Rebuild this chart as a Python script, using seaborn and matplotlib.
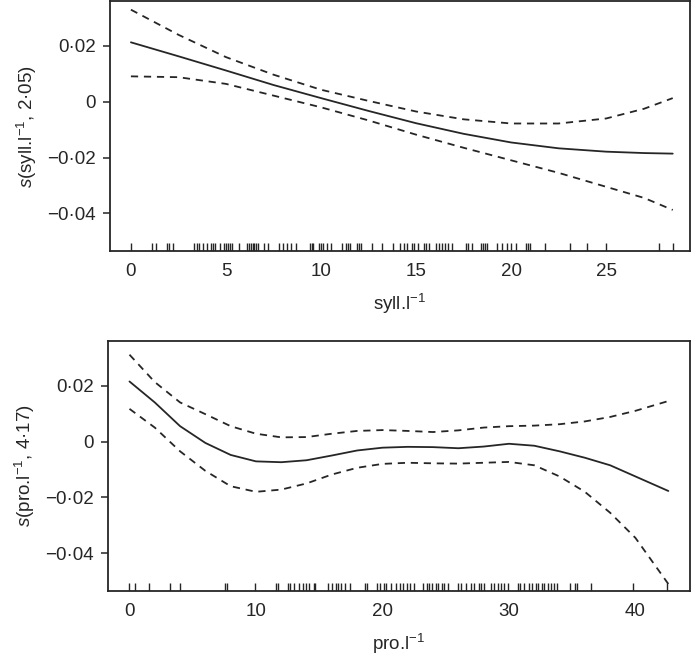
import matplotlib
matplotlib.use("Agg")
import matplotlib.pyplot as plt
import matplotlib.ticker as mticker
import pandas as pd
import seaborn as sns

# --- data --------------------------------------------------------------
# top panel: smooth of syll.l-1 (edf 2.05)
syll_x = [0, 2.5, 5, 7.5, 10, 12.5, 15, 17.5, 20, 22.5, 25, 27, 28.5]
syll_fit = [0.0213, 0.0163, 0.0112, 0.0060, 0.0013, -0.0033, -0.0077,
            -0.0115, -0.0146, -0.0167, -0.0179, -0.0184, -0.0186]
syll_upper = [0.0330, 0.0240, 0.0160, 0.0097, 0.0043, 0.0003, -0.0035,
              -0.0063, -0.0078, -0.0078, -0.0060, -0.0025, 0.0013]
syll_lower = [0.0091, 0.0088, 0.0064, 0.0022, -0.0020, -0.0067, -0.0118,
              -0.0165, -0.0210, -0.0255, -0.0305, -0.0345, -0.0388]
syll_rug = [0.03, 1.1, 1.3, 1.9, 2.0, 2.2, 3.3, 3.5, 3.6, 3.8, 4.0, 4.2, 4.3,
            4.4, 4.7, 4.9, 5.0, 5.1, 5.2, 5.3, 5.7, 6.1, 6.2, 6.3, 6.4, 6.5,
            6.6, 6.7, 7.0, 7.2, 7.8, 8.0, 8.2, 8.4, 8.7, 9.4, 9.5, 9.6, 9.9,
            10.0, 10.1, 10.3, 10.5, 11.1, 11.3, 11.4, 11.5, 11.9, 12.0, 12.1,
            12.7, 13.2, 13.8, 14.16, 14.37, 14.5, 14.8, 14.9, 15.1, 15.4,
            15.5, 15.7, 16.05, 16.2, 16.35, 16.5, 16.7, 16.9, 17.6, 17.75,
            17.96, 18.4, 18.5, 18.6, 18.75, 19.25, 19.5, 19.8, 20.0, 20.25,
            20.8, 20.9, 21.0, 21.8, 23.1, 24.0, 25.0, 27.8, 28.5]

# bottom panel: smooth of pro.l-1 (edf 4.17)
pro_x = [0, 2, 4, 6, 8, 10, 12, 14, 16, 18, 20, 22, 24, 26, 28, 30, 32, 34,
         36, 38, 40, 42.6]
pro_fit = [0.0215, 0.0140, 0.0055, -0.0005, -0.0048, -0.0071, -0.0074,
           -0.0067, -0.0050, -0.0032, -0.0022, -0.0019, -0.0020, -0.0024,
           -0.0018, -0.0008, -0.0015, -0.0035, -0.0058, -0.0085, -0.0125,
           -0.0177]
pro_upper = [0.0311, 0.0213, 0.0140, 0.0098, 0.0055, 0.0028, 0.0015, 0.0016,
             0.0028, 0.0038, 0.0041, 0.0038, 0.0034, 0.0040, 0.0050, 0.0055,
             0.0057, 0.0062, 0.0072, 0.0088, 0.0110, 0.0145]
pro_lower = [0.0117, 0.0050, -0.0035, -0.0105, -0.0160, -0.0180, -0.0172,
             -0.0150, -0.0118, -0.0094, -0.0080, -0.0076, -0.0078, -0.0079,
             -0.0076, -0.0073, -0.0085, -0.0125, -0.0180, -0.0255, -0.0345,
             -0.0510]
pro_rug = [0, 0.47, 1.57, 3.2, 4.0, 7.56, 7.74, 9.9, 11.55, 11.76, 12.5, 12.7,
           13.0, 13.4, 13.7, 13.96, 14.2, 14.6, 14.7, 15.7, 16.0, 16.3, 16.5,
           16.7, 17.0, 17.4, 18.6, 18.8, 19.55, 19.8, 20.1, 20.3, 20.7, 21.1,
           21.4, 21.65, 21.9, 22.2, 22.5, 23.2, 23.5, 23.7, 23.9, 24.2, 24.4,
           24.7, 24.9, 25.2, 26.0, 26.2, 26.6, 27.0, 27.2, 27.6, 27.8, 28.0,
           28.6, 28.8, 29.1, 29.4, 29.6, 29.9, 30.7, 30.9, 31.2, 31.6, 31.8,
           32.1, 32.3, 32.6, 32.8, 33.1, 33.3, 33.6, 33.8, 34.8, 35.2, 35.4,
           36.5, 39.8, 42.5]

y_ticks = [0.02, 0, -0.02, -0.04]

sns.set_style("ticks")
plt.rcParams["font.family"] = ["Liberation Sans", "DejaVu Sans"]
plt.rcParams["mathtext.fontset"] = "custom"
plt.rcParams["mathtext.rm"] = "Liberation Sans"
plt.rcParams["mathtext.it"] = "Liberation Sans:italic"

INK = "#262626"


def dot_fmt(v, _pos):
    if abs(v) < 1e-12:
        return "0"
    s = f"{abs(v):.2f}".replace(".", "\u00b7")
    return ("\u2212" if v < 0 else "") + s


def draw_panel(ax, x, fit, upper, lower, rug, xticks, xlim, xlabel, ylabel):
    df = pd.DataFrame({"x": x, "fit": fit, "upper": upper, "lower": lower})
    sns.lineplot(data=df, x="x", y="fit", ax=ax, color=INK, lw=1.3)
    for col in ("upper", "lower"):
        sns.lineplot(data=df, x="x", y=col, ax=ax, color=INK, lw=1.3,
                     dashes=False, linestyle=(0, (4, 3.2)))
    sns.rugplot(x=rug, ax=ax, height=0.032, color=INK, lw=0.9)

    ax.set_xlim(*xlim)
    ax.set_ylim(-0.0535, 0.036)
    ax.set_xticks(xticks)
    ax.set_yticks(y_ticks)
    ax.yaxis.set_major_formatter(mticker.FuncFormatter(dot_fmt))
    ax.tick_params(labelsize=13.5, width=1.1, color=INK, labelcolor=INK)
    ax.tick_params(axis="y", length=5, pad=5)
    ax.tick_params(axis="x", length=0, pad=9)
    for sp in ax.spines.values():
        sp.set_visible(True)
        sp.set_linewidth(1.3)
        sp.set_color(INK)
    ax.set_xlabel(xlabel, fontsize=13.5, color=INK, labelpad=8)
    ax.set_ylabel(ylabel, fontsize=13.5, color=INK, labelpad=6)


fig = plt.figure(figsize=(6.94, 6.57), dpi=100)
ax_top = fig.add_axes([0.1585, 0.618, 0.8355, 0.380])
ax_bot = fig.add_axes([0.1556, 0.1005, 0.8384, 0.3805])

draw_panel(ax_top, syll_x, syll_fit, syll_upper, syll_lower, syll_rug,
           [0, 5, 10, 15, 20, 25], (-1.1, 29.4),
           "syll.l$^{-1}$", "$s$(syll.l$^{-1}$, 2\u00b705)")
draw_panel(ax_bot, pro_x, pro_fit, pro_upper, pro_lower, pro_rug,
           [0, 10, 20, 30, 40], (-1.7, 44.3),
           "pro.l$^{-1}$", "$s$(pro.l$^{-1}$, 4\u00b717)")

fig.savefig("out.png", dpi=100)
